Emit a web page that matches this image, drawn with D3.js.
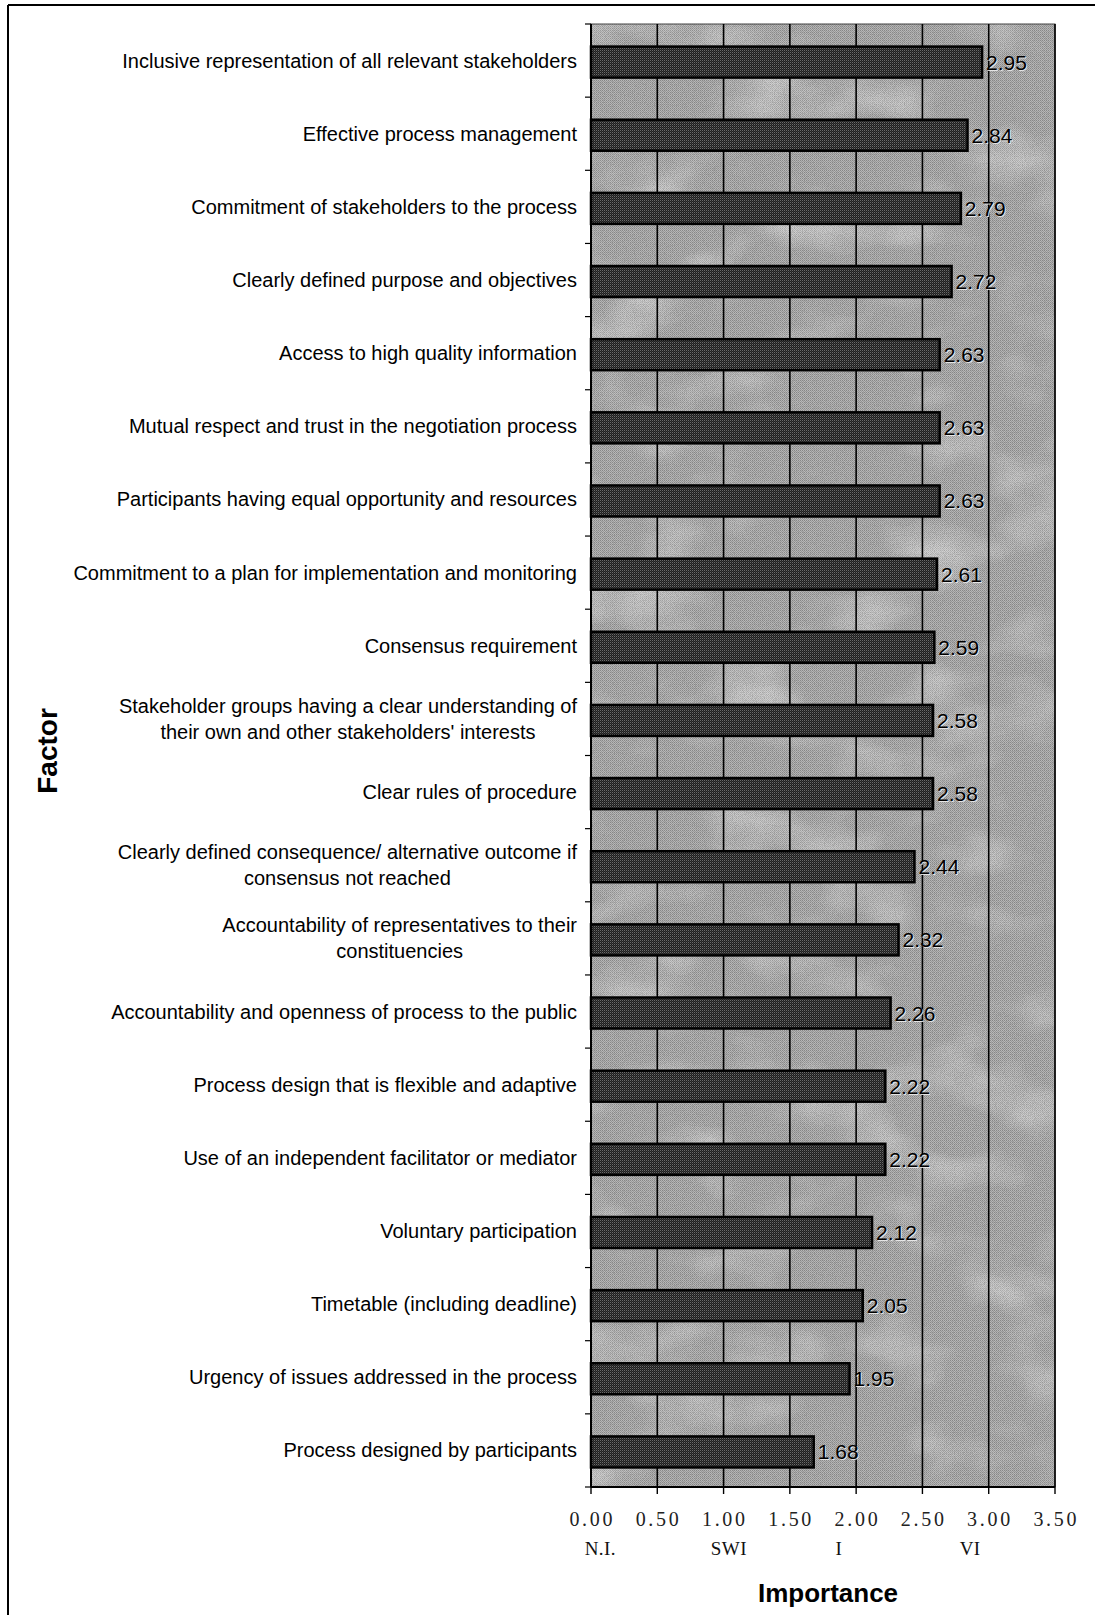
<!DOCTYPE html>
<html>
<head>
<meta charset="utf-8">
<script src="https://cdn.jsdelivr.net/npm/d3@7"></script>
<style>
  html, body { margin: 0; padding: 0; background: #fff; }
  svg { display: block; }
</style>
</head>
<body>
<script>
// ---- data ----
const factors = [
  ["Inclusive representation of all relevant stakeholders"],
  ["Effective process management"],
  ["Commitment of stakeholders to the process"],
  ["Clearly defined purpose and objectives"],
  ["Access to high quality information"],
  ["Mutual respect and trust in the negotiation process"],
  ["Participants having equal opportunity and resources"],
  ["Commitment to a plan for implementation and monitoring"],
  ["Consensus requirement"],
  ["Stakeholder groups having a clear understanding of", "their own and other stakeholders' interests"],
  ["Clear rules of procedure"],
  ["Clearly defined consequence/ alternative outcome if", "consensus not reached"],
  ["Accountability of representatives to their", "constituencies"],
  ["Accountability and openness of process to the public"],
  ["Process design that is flexible and adaptive"],
  ["Use of an independent facilitator or mediator"],
  ["Voluntary participation"],
  ["Timetable (including deadline)"],
  ["Urgency of issues addressed in the process"],
  ["Process designed by participants"]
];
const importance = [2.95, 2.84, 2.79, 2.72, 2.63, 2.63, 2.63, 2.61, 2.59, 2.58,
                    2.58, 2.44, 2.32, 2.26, 2.22, 2.22, 2.12, 2.05, 1.95, 1.68];
const xTicks = [0, 0.5, 1.0, 1.5, 2.0, 2.5, 3.0, 3.5];
const scaleNames = ["N.I.", "SWI", "I", "VI"];
const scaleValues = [0.07, 1.04, 1.87, 2.86];

// ---- layout ----
const W = 1095, H = 1615;
const svg = d3.select("body").append("svg").attr("width", W).attr("height", H);
const defs = svg.append("defs");

// halftone-like textures
const bgPat = defs.append("pattern").attr("id", "bgPat").attr("patternUnits", "userSpaceOnUse")
  .attr("width", 2).attr("height", 2);
bgPat.append("rect").attr("width", 2).attr("height", 2).attr("fill", "#b8b8b8");
bgPat.append("rect").attr("width", 1).attr("height", 1).attr("fill", "#888");
bgPat.append("rect").attr("x", 1).attr("y", 1).attr("width", 1).attr("height", 1).attr("fill", "#9a9a9a");

const barPat = defs.append("pattern").attr("id", "barPat").attr("patternUnits", "userSpaceOnUse")
  .attr("width", 2).attr("height", 2);
barPat.append("rect").attr("width", 2).attr("height", 2).attr("fill", "#1e1e1e");
barPat.append("rect").attr("width", 1).attr("height", 1).attr("fill", "#6a6a6a");
barPat.append("rect").attr("x", 1).attr("y", 1).attr("width", 1).attr("height", 1).attr("fill", "#383838");

const marble = defs.append("filter").attr("id", "marble")
  .attr("x", 0).attr("y", 0).attr("width", 1).attr("height", 1);
marble.append("feTurbulence").attr("type", "fractalNoise")
  .attr("baseFrequency", "0.010 0.016").attr("numOctaves", 3).attr("seed", 11);
marble.append("feColorMatrix").attr("type", "matrix")
  .attr("values", "0 0 0 0 0.92  0 0 0 0 0.92  0 0 0 0 0.92  1.6 0 0 0 -0.78");

const speck = defs.append("filter").attr("id", "speck")
  .attr("x", 0).attr("y", 0).attr("width", 1).attr("height", 1);
speck.append("feTurbulence").attr("type", "fractalNoise")
  .attr("baseFrequency", "0.9").attr("numOctaves", 1).attr("seed", 3);
speck.append("feColorMatrix").attr("type", "matrix")
  .attr("values", "0 0 0 0 0.2  0 0 0 0 0.2  0 0 0 0 0.2  -3 0 0 0 1.6");

const plot = { left: 591, right: 1055, top: 24, bottom: 1487 };

const x = d3.scaleLinear().domain([0, 3.5]).range([plot.left, plot.right]);
const y = d3.scaleBand().domain(d3.range(factors.length))
  .range([plot.top, plot.bottom]).paddingInner(0.576).paddingOuter(0.288);

// outer frame (top and left edges)
svg.append("line").attr("x1", 8).attr("x2", W).attr("y1", 5).attr("y2", 5)
  .attr("stroke", "#000").attr("stroke-width", 2);
svg.append("line").attr("x1", 8).attr("x2", 8).attr("y1", 5).attr("y2", H)
  .attr("stroke", "#000").attr("stroke-width", 2);

// plot background
const pw = plot.right - plot.left, ph = plot.bottom - plot.top;
svg.append("rect").attr("x", plot.left).attr("y", plot.top).attr("width", pw).attr("height", ph)
  .attr("fill", "url(#bgPat)");
svg.append("rect").attr("x", plot.left).attr("y", plot.top).attr("width", pw).attr("height", ph)
  .attr("fill", "#fff").attr("filter", "url(#marble)").attr("opacity", 0.7);
svg.append("rect").attr("x", plot.left).attr("y", plot.top).attr("width", pw).attr("height", ph)
  .attr("fill", "#000").attr("filter", "url(#speck)").attr("opacity", 0.4);
svg.append("rect").attr("x", plot.left).attr("y", plot.top).attr("width", pw).attr("height", ph)
  .attr("fill", "none").attr("stroke", "#444").attr("stroke-width", 1);

// vertical gridlines
svg.append("g").selectAll("line").data(xTicks.slice(1)).join("line")
  .attr("x1", d => x(d)).attr("x2", d => x(d))
  .attr("y1", plot.top).attr("y2", plot.bottom)
  .attr("stroke", "#000").attr("stroke-width", 1.6);

// bars
svg.append("g").selectAll("rect").data(importance).join("rect")
  .attr("x", x(0))
  .attr("y", (d, i) => y(i) + 1.5)
  .attr("width", d => x(d) - x(0))
  .attr("height", y.bandwidth())
  .attr("fill", "url(#barPat)")
  .attr("stroke", "#000").attr("stroke-width", 2.5);

// value labels
const vl = svg.append("g").attr("font-family", "Liberation Sans, Arial, sans-serif")
  .attr("font-size", 21);
vl.selectAll("text.sh").data(importance).join("text").attr("class", "sh")
  .attr("x", d => x(d) + 5).attr("y", (d, i) => y(i) + y.bandwidth() / 2 + 2.5)
  .attr("dominant-baseline", "central").attr("fill", "#f2f2f2").attr("opacity", 0.85)
  .text(d => d.toFixed(2));
vl.selectAll("text.v").data(importance).join("text").attr("class", "v")
  .attr("x", d => x(d) + 4).attr("y", (d, i) => y(i) + y.bandwidth() / 2 + 1.5)
  .attr("dominant-baseline", "central").attr("fill", "#000")
  .text(d => d.toFixed(2));

// y axis line + ticks at band boundaries
svg.append("line").attr("x1", plot.left).attr("x2", plot.left)
  .attr("y1", plot.top).attr("y2", plot.bottom).attr("stroke", "#000").attr("stroke-width", 2);
const bounds = d3.range(factors.length + 1).map(i => plot.top + i * y.step());
svg.append("g").selectAll("line").data(bounds).join("line")
  .attr("x1", plot.left - 6).attr("x2", plot.left)
  .attr("y1", d => d).attr("y2", d => d).attr("stroke", "#000").attr("stroke-width", 1.2);

// x axis line + ticks
svg.append("line").attr("x1", plot.left).attr("x2", plot.right)
  .attr("y1", plot.bottom).attr("y2", plot.bottom).attr("stroke", "#000").attr("stroke-width", 2);
svg.append("g").selectAll("line").data(xTicks).join("line")
  .attr("x1", d => x(d)).attr("x2", d => x(d))
  .attr("y1", plot.bottom).attr("y2", plot.bottom + 7).attr("stroke", "#000").attr("stroke-width", 1.4);

// x tick labels
svg.append("g").selectAll("text").data(xTicks).join("text")
  .attr("x", d => x(d) + 1.3).attr("y", 1526)
  .attr("text-anchor", "middle")
  .attr("font-family", "Liberation Serif, Times New Roman, serif")
  .attr("font-size", 20).attr("letter-spacing", 2.7).attr("fill", "#222")
  .text(d => d.toFixed(2));

// importance scale names
svg.append("g").selectAll("text").data(scaleNames).join("text")
  .attr("x", (d, i) => x(scaleValues[i])).attr("y", 1555)
  .attr("text-anchor", "middle")
  .attr("font-family", "Liberation Serif, Times New Roman, serif")
  .attr("font-size", 19).attr("letter-spacing", 0.4).attr("fill", "#111")
  .text(d => d);

// category labels
const labelRight = 577;
const lg = svg.append("g").attr("font-family", "Liberation Sans, Arial, sans-serif")
  .attr("font-size", 20).attr("fill", "#000");
factors.forEach((lines, i) => {
  const cy = y(i) + y.bandwidth() / 2;
  const lh = 26;
  const t = lg.append("text").attr("dominant-baseline", "central");
  const spans = lines.map((ln, k) => t.append("tspan")
    .attr("y", cy + (k - (lines.length - 1) / 2) * lh).text(ln));
  if (lines.length === 1) {
    t.attr("text-anchor", "end");
    spans[0].attr("x", labelRight);
  } else {
    const maxW = d3.max(spans, s => s.node().getComputedTextLength());
    t.attr("text-anchor", "middle");
    spans.forEach(s => s.attr("x", labelRight - maxW / 2));
  }
});

// axis titles
svg.append("text").attr("transform", "translate(57,751) rotate(-90)")
  .attr("text-anchor", "middle")
  .attr("font-family", "Liberation Sans, Arial, sans-serif")
  .attr("font-size", 28).attr("font-weight", "bold").attr("fill", "#000")
  .text("Factor");
svg.append("text").attr("x", 828).attr("y", 1602)
  .attr("text-anchor", "middle")
  .attr("font-family", "Liberation Sans, Arial, sans-serif")
  .attr("font-size", 26).attr("font-weight", "bold").attr("fill", "#000")
  .text("Importance");
</script>
</body>
</html>
